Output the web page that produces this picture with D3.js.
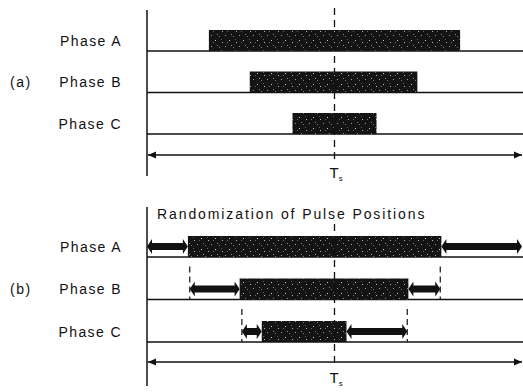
<!DOCTYPE html>
<html>
<head>
<meta charset="utf-8">
<script src="https://cdn.jsdelivr.net/npm/d3@7"></script>
<style>
  html, body { margin: 0; padding: 0; background: #fff; }
  svg { display: block; }
  text { font-family: "Liberation Sans", Arial, sans-serif; fill: #111; }
</style>
</head>
<body>
<div id="chart"></div>
<script>
// ---- data (fractions of the switching period Ts) ----
const phases = ["Phase A", "Phase B", "Phase C"];
const panelLabels = ["(a)", "(b)"];
// (a) fixed, centred pulses
const pulseStartA = [0.165, 0.274, 0.388];
const pulseEndA   = [0.835, 0.721, 0.612];
// (b) randomized pulse positions: allowed range and one pulse position
const rangeStartB = [0.000, 0.114, 0.253];
const rangeEndB   = [1.000, 0.782, 0.694];
const pulseStartB = [0.109, 0.247, 0.306];
const pulseEndB   = [0.785, 0.697, 0.532];
const titleB = "Randomization of Pulse Positions";
const periodMain = "T", periodSub = "s";

const W = 523, H = 392;
const svg = d3.select("#chart").append("svg").attr("width", W).attr("height", H);

// speckle texture for the pulses
const defs = svg.append("defs");
const pat = defs.append("pattern").attr("id", "speckle").attr("patternUnits", "userSpaceOnUse")
  .attr("width", 14).attr("height", 11);
pat.append("rect").attr("width", 14).attr("height", 11).attr("fill", "#141414");
const dots = [[1,2,"#9a9a9a"],[5,7,"#cfcfcf"],[9,3,"#7a7a7a"],[12,9,"#b5b5b5"],[3,9,"#6a6a6a"],[7,1,"#8c8c8c"],[11,6,"#5a5a5a"]];
dots.forEach(d => pat.append("rect").attr("x", d[0]).attr("y", d[1]).attr("width", 1).attr("height", 1).attr("fill", d[2]));

const x = d3.scaleLinear().domain([0, 1]).range([147, 522]);
const barH = 21;

function thickArrow(g, x0, x1, yc) {
  const t = 3.5, hh = 7.5, hl = 5;
  const p = d3.path();
  p.moveTo(x0, yc);
  p.lineTo(x0 + hl, yc - hh);
  p.lineTo(x0 + hl, yc - t);
  p.lineTo(x1 - hl, yc - t);
  p.lineTo(x1 - hl, yc - hh);
  p.lineTo(x1, yc);
  p.lineTo(x1 - hl, yc + hh);
  p.lineTo(x1 - hl, yc + t);
  p.lineTo(x0 + hl, yc + t);
  p.lineTo(x0 + hl, yc + hh);
  p.closePath();
  g.append("path").attr("d", p.toString()).attr("fill", "#111");
}

function periodArrow(g, y) {
  const x0 = x(0) + 1, x1 = x(1);
  g.append("line").attr("x1", x0).attr("x2", x1).attr("y1", y).attr("y2", y)
    .attr("stroke", "#111").attr("stroke-width", 1.3);
  g.append("path").attr("d", `M${x0},${y}L${x0 + 8},${y - 3.5}L${x0 + 8},${y + 3.5}Z`).attr("fill", "#111");
  g.append("path").attr("d", `M${x1},${y}L${x1 - 8},${y - 3.5}L${x1 - 8},${y + 3.5}Z`).attr("fill", "#111");
}

function drawPanel(cfg) {
  const g = svg.append("g");
  const y = d3.scalePoint().domain(phases).range(cfg.rows);
  // baselines
  phases.forEach(p => {
    g.append("line").attr("x1", x(0)).attr("x2", W).attr("y1", y(p)).attr("y2", y(p))
      .attr("stroke", "#111").attr("stroke-width", 1.4);
  });
  // left axis
  g.append("line").attr("x1", x(0)).attr("x2", x(0)).attr("y1", cfg.axisTop).attr("y2", cfg.axisBottom)
    .attr("stroke", "#111").attr("stroke-width", 1.5);
  // pulses
  phases.forEach((p, i) => {
    g.append("rect").attr("x", x(cfg.start[i])).attr("y", y(p) - barH)
      .attr("width", x(cfg.end[i]) - x(cfg.start[i])).attr("height", barH)
      .attr("fill", "url(#speckle)");
  });
  // randomization ranges
  if (cfg.rStart) {
    phases.forEach((p, i) => {
      const yc = y(p) - barH / 2;
      [cfg.rStart[i], cfg.rEnd[i]].forEach(v => {
        if (v > 0 && v < 1) {
          g.append("line").attr("x1", x(v)).attr("x2", x(v)).attr("y1", y(p) - 33).attr("y2", y(p))
            .attr("stroke", "#111").attr("stroke-width", 1.2).attr("stroke-dasharray", "6,4");
        }
      });
      thickArrow(g, x(cfg.rStart[i]), x(cfg.start[i]), yc);
      thickArrow(g, x(cfg.end[i]), x(cfg.rEnd[i]), yc);
    });
  }
  // centre dashed line
  g.append("line").attr("x1", x(0.5)).attr("x2", x(0.5)).attr("y1", cfg.dashTop).attr("y2", cfg.arrowY + 6)
    .attr("stroke", "#111").attr("stroke-width", 1.3).attr("stroke-dasharray", "7,5");
  // period arrow
  periodArrow(g, cfg.arrowY);
  // labels
  phases.forEach(p => {
    g.append("text").attr("x", 122).attr("y", y(p) - barH / 2 + 5)
      .attr("text-anchor", "end").attr("font-size", 14).attr("letter-spacing", 1.4).text(p);
  });
  g.append("text").attr("x", 10).attr("y", y(phases[1]) - barH / 2 + 5)
    .attr("font-size", 14).attr("letter-spacing", 1.5).text(cfg.label);
  const t = g.append("text").attr("x", x(0.5) - 5).attr("y", cfg.arrowY + cfg.tsOffset).attr("font-size", 15);
  t.append("tspan").text(periodMain);
  t.append("tspan").attr("font-size", 8).attr("dy", 3).text(periodSub);
  if (cfg.title) {
    g.append("text").attr("x", 157).attr("y", cfg.titleY).attr("font-size", 14)
      .attr("letter-spacing", 1.9).text(cfg.title);
  }
}

drawPanel({
  rows: [51, 134], start: pulseStartA, end: pulseEndA,
  axisTop: 10, axisBottom: 176, dashTop: 8, arrowY: 155, tsOffset: 23, label: panelLabels[0]
});
drawPanel({
  rows: [257, 342], start: pulseStartB, end: pulseEndB,
  rStart: rangeStartB, rEnd: rangeEndB,
  axisTop: 207, axisBottom: 386, dashTop: 224, arrowY: 362, tsOffset: 21, label: panelLabels[1],
  title: titleB, titleY: 219
});
</script>
</body>
</html>
